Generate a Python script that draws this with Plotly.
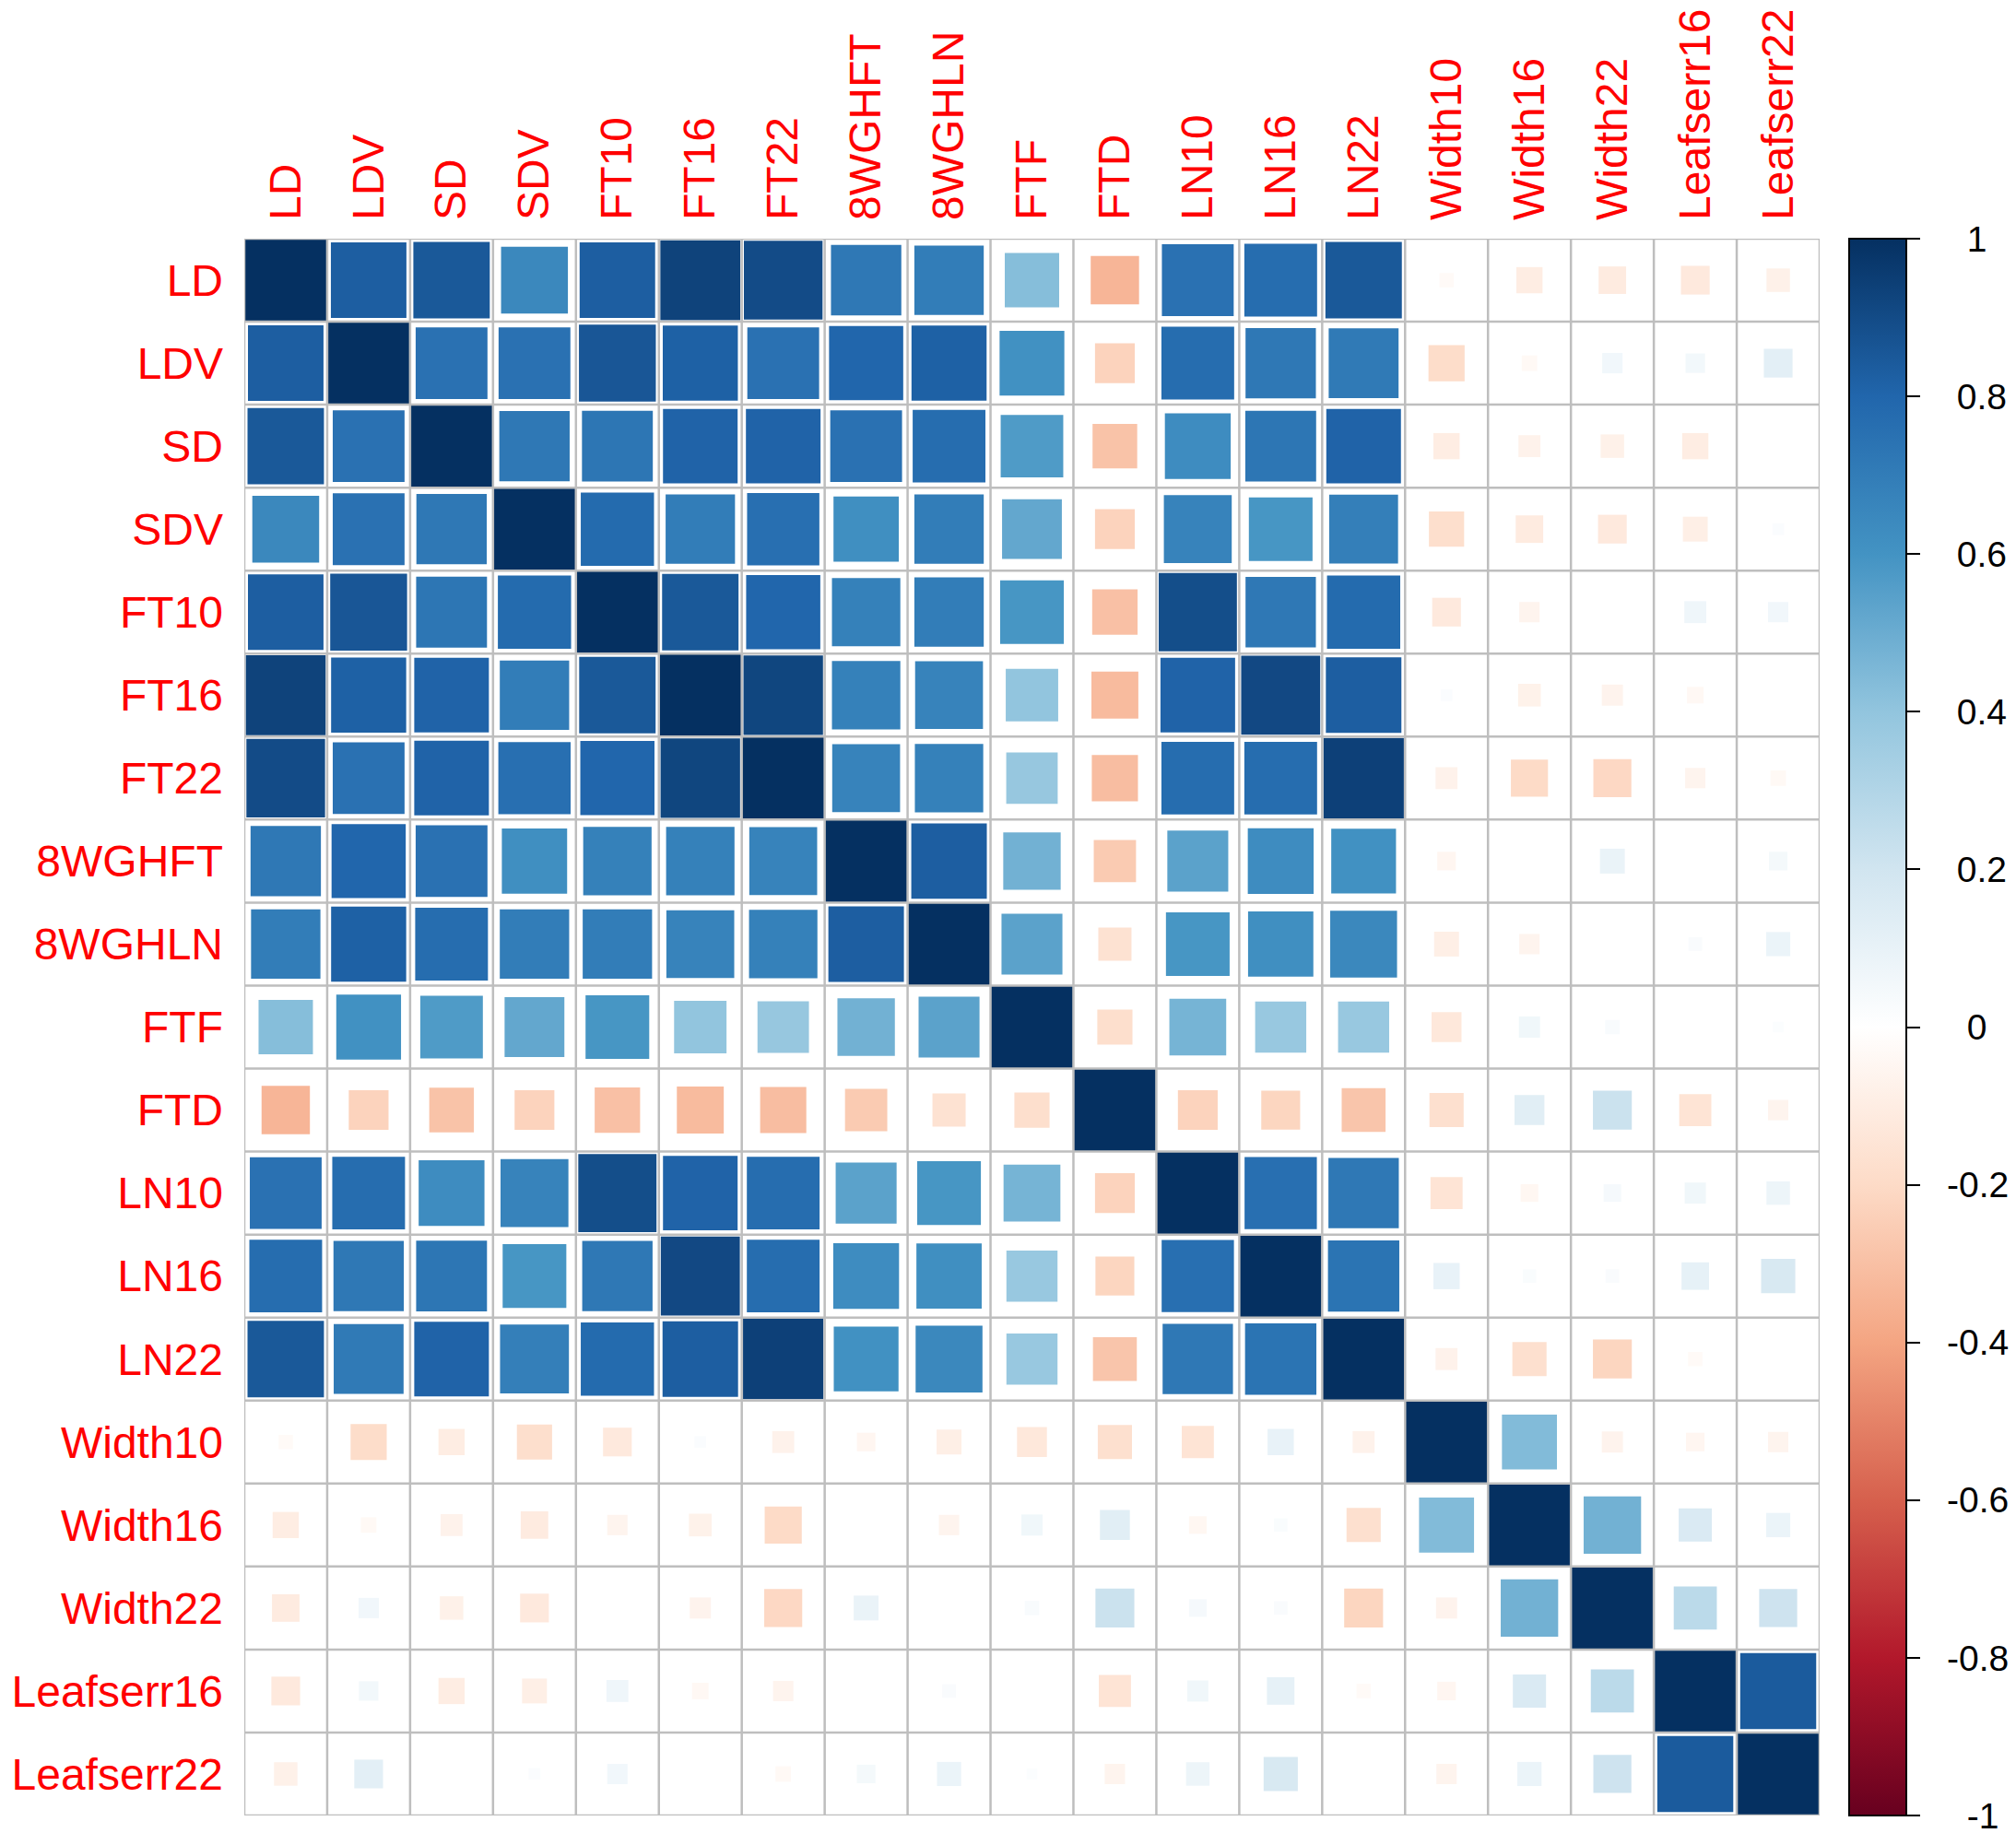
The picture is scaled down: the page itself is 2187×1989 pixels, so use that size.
"""
correlation matrix, corrplot style squares
"""

import numpy as np
import plotly.graph_objects as go

## trait names (rows and columns)
traits = [
    "LD", "LDV", "SD", "SDV", "FT10", "FT16", "FT22", "8WGHFT", "8WGHLN",
    "FTF", "FTD", "LN10", "LN16", "LN22", "Width10", "Width16", "Width22",
    "Leafserr16", "Leafserr22",
]

## lower triangle of the correlation matrix, read row by row
lower = [
    [1.0],
    [0.83, 1.0],
    [0.85, 0.75, 1.0],
    [0.65, 0.75, 0.72, 1.0],
    [0.83, 0.86, 0.73, 0.78, 1.0],
    [0.93, 0.82, 0.81, 0.70, 0.85, 1.0],
    [0.90, 0.75, 0.81, 0.76, 0.80, 0.92, 1.0],
    [0.72, 0.80, 0.75, 0.62, 0.68, 0.68, 0.67, 1.0],
    [0.70, 0.82, 0.77, 0.70, 0.70, 0.67, 0.68, 0.83, 1.0],
    [0.43, 0.61, 0.57, 0.52, 0.59, 0.40, 0.385, 0.48, 0.54, 1.0],
    [-0.34, -0.23, -0.29, -0.23, -0.30, -0.32, -0.31, -0.26, -0.16, -0.18, 1.0],
    [0.75, 0.77, 0.63, 0.67, 0.89, 0.81, 0.77, 0.54, 0.59, 0.47, -0.23, 1.0],
    [0.77, 0.72, 0.73, 0.59, 0.72, 0.91, 0.77, 0.63, 0.62, 0.38, -0.22, 0.76, 1.0],
    [0.85, 0.71, 0.81, 0.69, 0.78, 0.83, 0.94, 0.61, 0.65, 0.38, -0.28, 0.72, 0.74, 1.0],
    [-0.03, -0.19, -0.10, -0.18, -0.12, 0.02, -0.07, -0.05, -0.09, -0.13, -0.17, -0.15,
     0.10, -0.07, 1.0],
    [-0.10, -0.035, -0.07, -0.11, -0.06, -0.075, -0.20, 0.0, -0.06, 0.065, 0.13, -0.045,
     0.026, -0.17, 0.44, 1.0],
    [-0.11, 0.06, -0.08, -0.12, 0.0, -0.065, -0.21, 0.09, 0.0, 0.03, 0.22, 0.045,
     0.027, -0.22, -0.065, 0.48, 1.0],
    [-0.12, 0.055, -0.10, -0.09, 0.07, -0.04, -0.06, 0.0, 0.027, 0.0, -0.15, 0.065,
     0.11, -0.03, -0.05, 0.16, 0.27, 1.0],
    [-0.08, 0.12, 0.0, 0.02, 0.06, 0.0, -0.035, 0.05, 0.085, 0.017, -0.06, 0.08,
     0.17, 0.0, -0.06, 0.085, 0.21, 0.84, 1.0],
]

## colour bar ticks
cbar_vals = [-1, -0.8, -0.6, -0.4, -0.2, 0, 0.2, 0.4, 0.6, 0.8, 1]
cbar_text = ["-1", "-0.8", "-0.6", "-0.4", "-0.2", "0", "0.2", "0.4", "0.6", "0.8", "1"]

## full symmetric matrix
n = len(traits)
corr = np.zeros((n, n))
for i, row in enumerate(lower):
    for j, v in enumerate(row):
        corr[i, j] = v
        corr[j, i] = v

## corrplot RdBu palette
rdbu = ["#67001F", "#B2182B", "#D6604D", "#F4A582", "#FDDBC7", "#FFFFFF",
        "#D1E5F0", "#92C5DE", "#4393C3", "#2166AC", "#053061"]
colorscale = [[k / 10, c] for k, c in enumerate(rdbu)]

## page / plot area in pixels (page body adds an 8px margin)
W, H = 2171, 1981
left, right, top, bottom = 257, 205, 251, 19
cell = (W - left - right) / n

xs, ys, vals = [], [], []
for i in range(n):
    for j in range(n):
        xs.append(traits[j])
        ys.append(traits[i])
        vals.append(corr[i, j])
vals = np.array(vals)
sizes = np.sqrt(np.abs(vals)) * cell

## centre the colour bar labels (R draws them centred) by padding with nbsp
cb_font = 39
char_w = {"-": 0.333, ".": 0.278}
def text_w(s):
    return sum(char_w.get(c, 0.556) for c in s) * cb_font
widest = max(text_w(t) for t in cbar_text)
nbsp_w = 0.278 * cb_font
shift = 25
cb_labels = []
for t in cbar_text:
    k = int(round((shift + (widest - text_w(t)) / 2) / nbsp_w))
    cb_labels.append("\u00a0" * k + t)

fig = go.Figure(
    go.Scatter(
        x=xs,
        y=ys,
        mode="markers",
        marker=dict(
            symbol="square",
            size=sizes,
            opacity=1,
            color=vals,
            colorscale=colorscale,
            cmin=-1,
            cmax=1,
            line=dict(width=0),
            colorbar=dict(
                x=(1998 - left) / (W - left - right),
                xanchor="left",
                xpad=0,
                y=0.5,
                yanchor="middle",
                ypad=0,
                len=1,
                thickness=62,
                outlinewidth=2,
                outlinecolor="black",
                ticks="outside",
                ticklen=14,
                tickwidth=2,
                tickcolor="black",
                tickvals=cbar_vals,
                ticktext=cb_labels,
                ticklabeloverflow="allow",
                tickfont=dict(family="Liberation Sans", size=cb_font, color="black"),
            ),
        ),
        hoverinfo="skip",
        showlegend=False,
    )
)

## grey grid drawn over the squares
grid = []
for k in range(n + 1):
    grid.append(dict(type="line", xref="x", yref="y", x0=k - 0.5, x1=k - 0.5,
                     y0=-0.5, y1=n - 0.5, line=dict(color="#BEBEBE", width=2.5), layer="above"))
    grid.append(dict(type="line", xref="x", yref="y", x0=-0.5, x1=n - 0.5,
                     y0=k - 0.5, y1=k - 0.5, line=dict(color="#BEBEBE", width=2.5), layer="above"))

label_font = dict(family="Liberation Sans", size=48, color="red")
fig.update_layout(
    width=W,
    height=H,
    margin=dict(l=left, r=right, t=top, b=bottom, autoexpand=False),
    paper_bgcolor="white",
    plot_bgcolor="white",
    shapes=grid,
    xaxis=dict(
        type="category",
        side="top",
        range=[-0.5, n - 0.5],
        tickangle=-90,
        tickfont=label_font,
        showgrid=False,
        zeroline=False,
        showline=False,
        ticks="",
        ticklabelstandoff=19,
        automargin=False,
    ),
    yaxis=dict(
        type="category",
        range=[n - 0.5, -0.5],
        tickfont=label_font,
        showgrid=False,
        zeroline=False,
        showline=False,
        ticks="",
        ticklabelstandoff=22,
        automargin=False,
    ),
)

fig.write_html("out.html")
